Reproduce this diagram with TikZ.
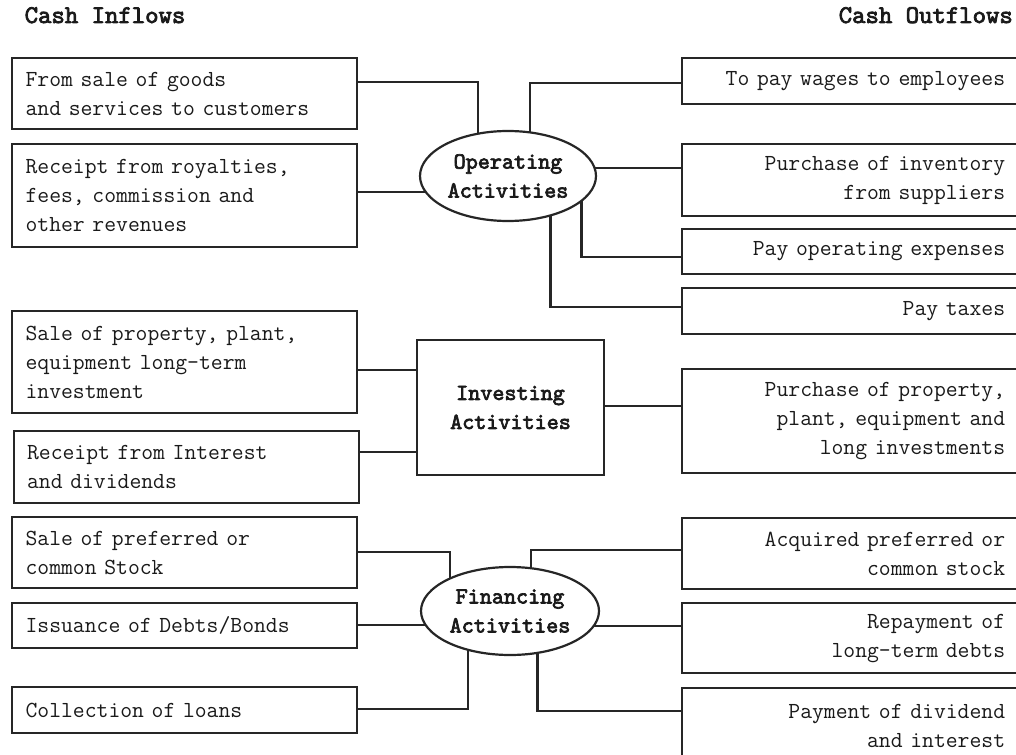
\documentclass[tikz,border=0pt]{standalone}
\usepackage{fontspec}
\newfontfamily\ttbold{lmmono10-regular}[Extension=.otf, FakeBold=3]
\usetikzlibrary{shapes.geometric,backgrounds}
\definecolor{linec}{HTML}{262626}
\definecolor{textc}{HTML}{1A1A1A}
\newcommand{\bodyfnt}{\fontsize{23}{29}\selectfont\ttfamily}
\newcommand{\boldfnt}{\fontsize{23}{29}\selectfont\ttbold}
\newcommand{\titlefnt}{\fontsize{25.5}{30}\selectfont\ttbold}
\tikzset{
  lbox/.style={draw=linec, line width=2.2pt, fill=white, text=textc,
    inner xsep=13.5pt, inner ysep=0pt, font=\bodyfnt, align=left,
    text width=318pt, anchor=north west},
  rbox/.style={draw=linec, line width=2.2pt, fill=white, text=textc,
    inner xsep=13.5pt, inner ysep=0pt, font=\bodyfnt, align=right,
    text width=309.5pt, anchor=north west},
  hub/.style={draw=linec, line width=2.2pt, fill=white, text=textc,
    ellipse, inner sep=0pt, font=\boldfnt, align=center},
  hubbox/.style={draw=linec, line width=2.2pt, fill=white, text=textc,
    rectangle, inner sep=0pt, font=\boldfnt, align=center},
  link/.style={draw=linec, line width=2.2pt},
  ttl/.style={inner sep=0pt, text=textc, font=\titlefnt}
}
\begin{document}
\begin{tikzpicture}[x=1pt,y=-1pt]
\useasboundingbox (0,0) rectangle (1016,754);

% titles
\node[ttl, anchor=base west] (tin) at (24.5,23) {Cash Inflows};
\node[ttl, anchor=base east] (tout) at (1013,23) {Cash Outflows};

% hubs
\node[hub, minimum width=176pt, minimum height=90pt] (op) at (508,176) {Operating\\Activities};
\node[hubbox, minimum width=187pt, minimum height=135pt] (inv) at (510.5,407.5) {Investing\\Activities};
\node[hub, minimum width=178pt, minimum height=88pt] (fin) at (510,611) {Financing\\Activities};

% left boxes
\node[lbox, minimum height=71pt] (L1) at (11,57) {From sale of goods\\and services to customers};
\node[lbox, minimum height=103pt] (L2) at (11,143) {Receipt from royalties,\\fees, commission and\\other revenues};
\node[lbox, minimum height=102pt] (L3) at (11,310) {Sale of property, plant,\\equipment long-term\\investment};
\node[lbox, minimum height=72pt] (L4) at (12.5,430) {Receipt from Interest\\and dividends};
\node[lbox, minimum height=71pt] (L5) at (11,516) {Sale of preferred or\\common Stock};
\node[lbox, minimum height=45pt] (L6) at (11,602) {Issuance of Debts/Bonds};
\node[lbox, minimum height=46pt] (L7) at (11,686) {Collection of loans};

% right boxes
\node[rbox, minimum height=46pt] (R1) at (681,57) {To pay wages to employees};
\node[rbox, minimum height=72pt] (R2) at (681,143) {Purchase of inventory\\from suppliers};
\node[rbox, minimum height=45pt] (R3) at (681,228) {Pay operating expenses};
\node[rbox, minimum height=46pt] (R4) at (681,287) {Pay taxes};
\node[rbox, minimum height=104pt] (R5) at (681,368) {Purchase of property,\\plant, equipment and\\long investments};
\node[rbox, minimum height=71pt] (R6) at (681,517) {Acquired preferred or\\common stock};
\node[rbox, minimum height=70pt] (R7) at (681,602) {Repayment of\\long-term debts};
\node[rbox, minimum height=76pt] (R8) at (681,687) {Payment of dividend\\and interest};

\begin{scope}[on background layer]
  % operating
  \draw[link] (L1.east |- 0,82) -| ([xshift=-30pt]op.center);
  \draw[link] (L2.east |- 0,192) -- (op.center |- 0,192);
  \draw[link] (R1.west |- 0,83) -| ([xshift=22pt]op.center);
  \draw[link] (R2.west |- 0,168) -- (op.center |- 0,168);
  \draw[link] (R3.west |- 0,257) -| ([xshift=73.5pt]op.center);
  \draw[link] (R4.west |- 0,307) -| ([xshift=42.5pt]op.center);
  % investing
  \draw[link] (L3.east |- 0,370) -- (inv.west |- 0,370);
  \draw[link] (L4.east |- 0,452) -- (inv.west |- 0,452);
  \draw[link] (R5.west |- 0,406) -- (inv.east |- 0,406);
  % financing
  \draw[link] (L5.east |- 0,552) -| ([xshift=-60pt]fin.center);
  \draw[link] (L6.east |- 0,625) -- (fin.center |- 0,625);
  \draw[link] (L7.east |- 0,709) -| ([xshift=-42pt]fin.center);
  \draw[link] (R6.west |- 0,550) -| ([xshift=21pt]fin.center);
  \draw[link] (R7.west |- 0,626) -- (fin.center |- 0,626);
  \draw[link] (R8.west |- 0,711) -| ([xshift=27.5pt]fin.center);
\end{scope}
\end{tikzpicture}
\end{document}
